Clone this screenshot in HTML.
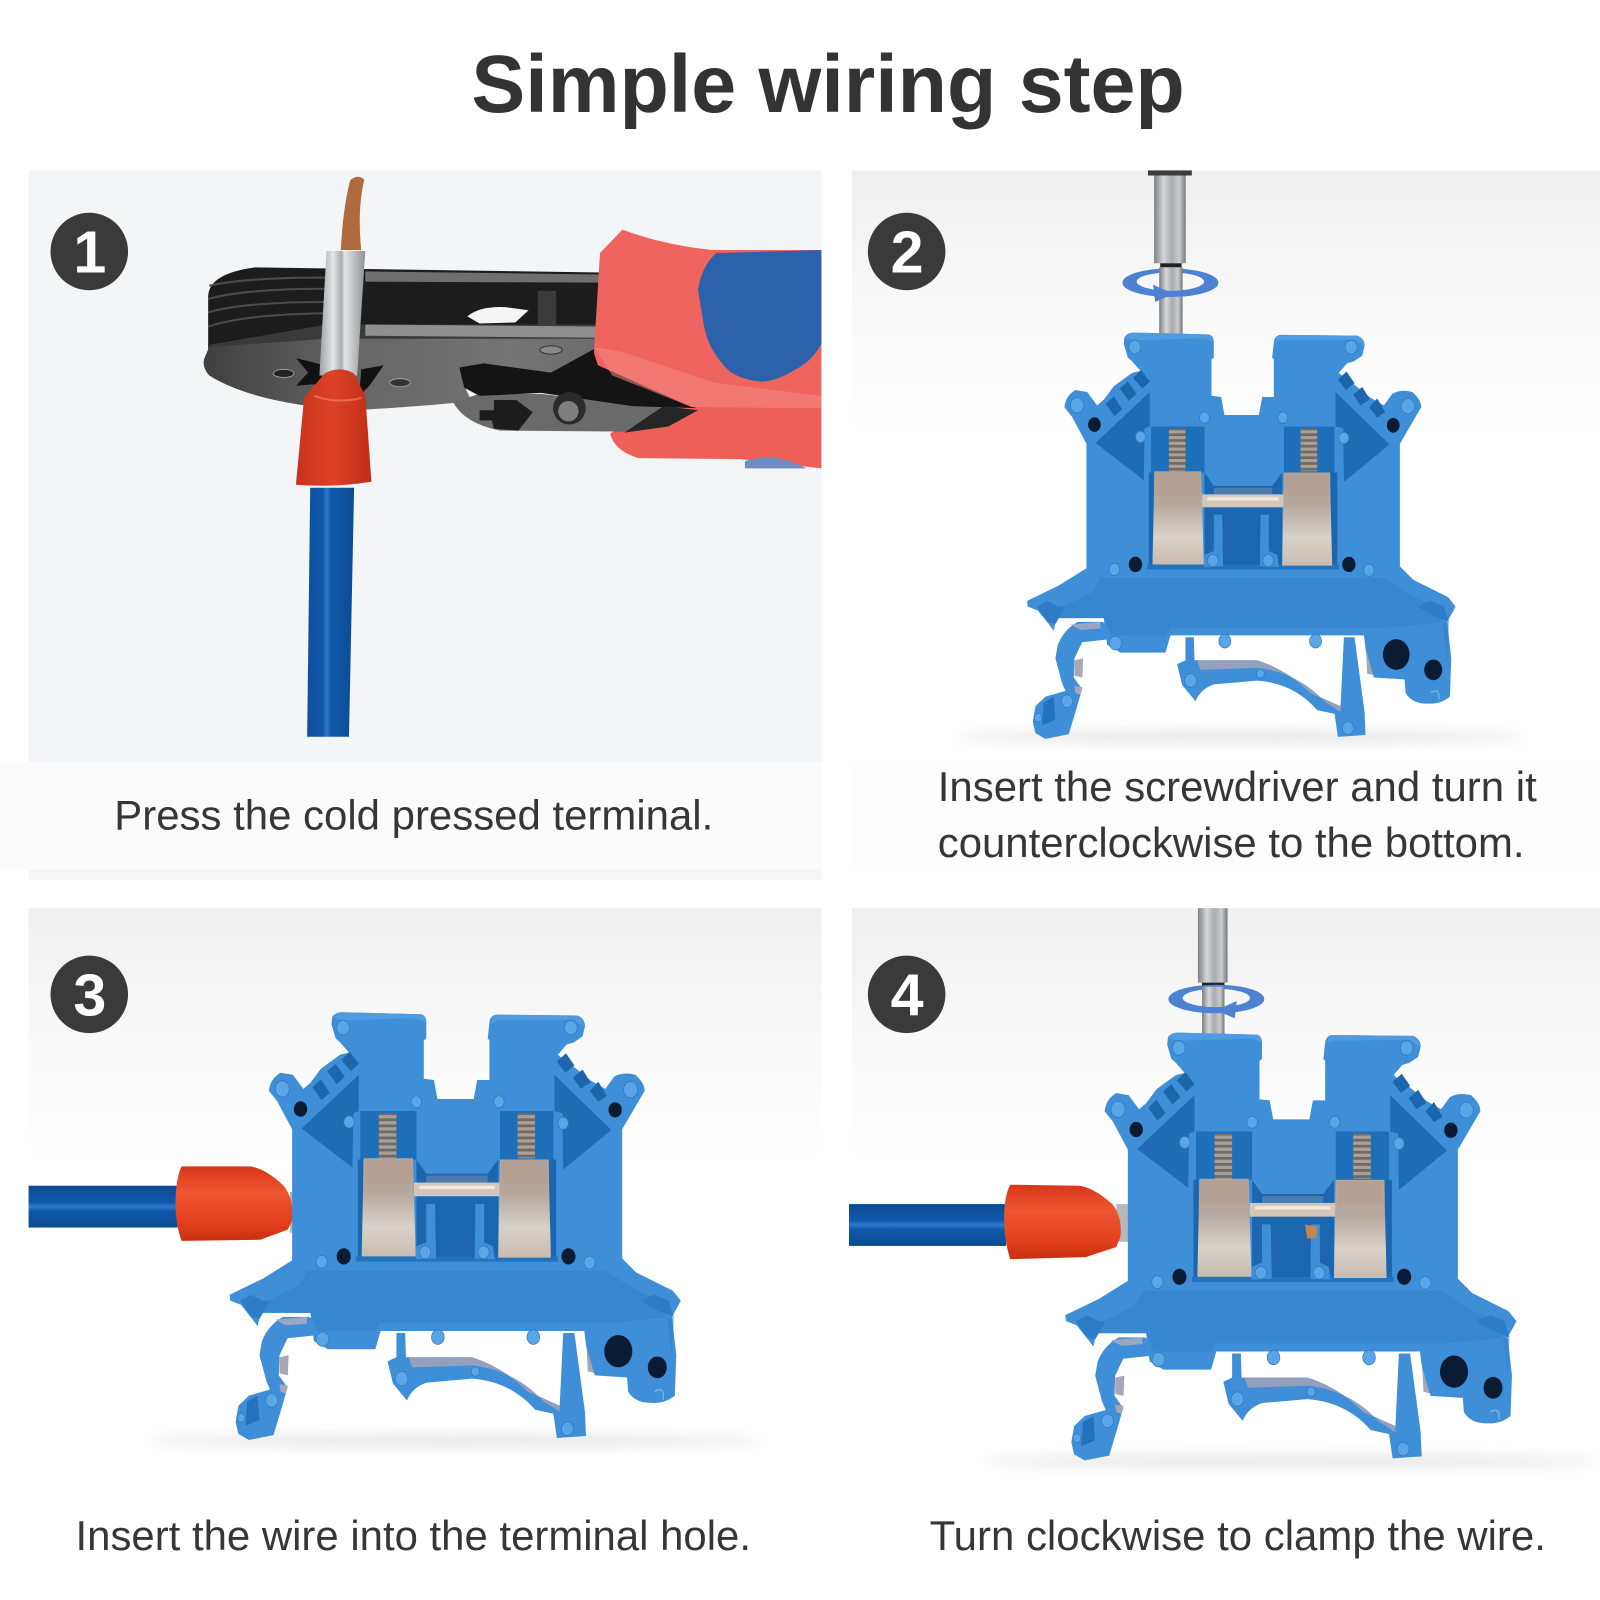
<!DOCTYPE html>
<html><head><meta charset="utf-8"><style>html,body{margin:0;padding:0;background:#fff}svg{display:block}text{font-family:"Liberation Sans",sans-serif}</style></head><body>
<svg xmlns="http://www.w3.org/2000/svg" width="1600" height="1600" viewBox="0 0 1568 1568">
<defs>
<clipPath id="c2"><rect x="1090" y="279" width="115" height="30"/></clipPath>
<clipPath id="c4"><rect x="1135" y="981" width="115" height="30"/></clipPath>
<linearGradient id="bgTop" x1="0" y1="0" x2="0" y2="1"><stop offset="0" stop-color="#efefef"/><stop offset=".22" stop-color="#f9f9f9"/><stop offset=".45" stop-color="#fff"/></linearGradient>
<linearGradient id="metalL" x1="0" y1="0" x2="0" y2="1"><stop offset="0" stop-color="#b8a698"/><stop offset=".35" stop-color="#b5a79d"/><stop offset=".7" stop-color="#d8d2ca"/><stop offset="1" stop-color="#c9bbae"/></linearGradient>
<linearGradient id="steel" x1="0" y1="0" x2="1" y2="0"><stop offset="0" stop-color="#7d8184"/><stop offset=".3" stop-color="#d5d8da"/><stop offset=".55" stop-color="#a7abae"/><stop offset=".8" stop-color="#c9cccd"/><stop offset="1" stop-color="#74787b"/></linearGradient>
<linearGradient id="ferr" x1="0" y1="0" x2="1" y2="0"><stop offset="0" stop-color="#9ba0a3"/><stop offset=".3" stop-color="#e4e6e7"/><stop offset=".48" stop-color="#a7adb1"/><stop offset=".55" stop-color="#e3e5e6"/><stop offset="1" stop-color="#8e9396"/></linearGradient>
<linearGradient id="wireV" x1="0" y1="0" x2="1" y2="0"><stop offset="0" stop-color="#0e4f9d"/><stop offset=".33" stop-color="#1158ab"/><stop offset=".42" stop-color="#2f7ccb"/><stop offset=".5" stop-color="#1058aa"/><stop offset="1" stop-color="#0d4a94"/></linearGradient>
<linearGradient id="wireH" x1="0" y1="0" x2="0" y2="1"><stop offset="0" stop-color="#0d4a94"/><stop offset=".4" stop-color="#1158ab"/><stop offset=".5" stop-color="#2f7ccb"/><stop offset=".6" stop-color="#1058aa"/><stop offset="1" stop-color="#0d4a94"/></linearGradient>
<linearGradient id="capH" x1="0" y1="0" x2="0" y2="1"><stop offset="0" stop-color="#d8361a"/><stop offset=".35" stop-color="#ef5632"/><stop offset=".75" stop-color="#e4401d"/><stop offset="1" stop-color="#c8300f"/></linearGradient>
<linearGradient id="capV" x1="0" y1="0" x2="1" y2="0"><stop offset="0" stop-color="#c9321c"/><stop offset=".5" stop-color="#dc4226"/><stop offset="1" stop-color="#bf2e18"/></linearGradient>
<linearGradient id="plate" x1="0" y1="0" x2="1" y2="0"><stop offset="0" stop-color="#3f3f3f"/><stop offset=".35" stop-color="#666"/><stop offset=".7" stop-color="#747474"/><stop offset="1" stop-color="#6a6a6a"/></linearGradient>
<filter id="b6" x="-20%" y="-200%" width="140%" height="500%"><feGaussianBlur stdDeviation="6"/></filter>
<pattern id="thread" width="20" height="15" patternUnits="userSpaceOnUse"><rect width="20" height="15" fill="#a9a097"/><rect y="8" width="20" height="7" fill="#6f6a66"/></pattern>

<g id="tb">
  <!-- lower hook -->
  <path d="M305,1205 L232,1205 Q190,1225 172,1265 L165,1300 L185,1365 L195,1385 L135,1400 L105,1425 L97,1465 L105,1495 L135,1510 L205,1498 L225,1440 L245,1380 L220,1350 L222,1300 L245,1258 L330,1250 L330,1215 Z" fill="#3f8fd8"/>
  <path d="M222,1305 L248,1300 L246,1350 L222,1345 Z M222,1372 L246,1375 L240,1395 L225,1390 Z" fill="#a9a7b5"/>
  <path d="M210,1212 L300,1205 L300,1222 L240,1226 Z" fill="#99a6c4"/>
  <path d="M130,1415 L160,1400 L165,1460 L125,1475 Z" fill="#2472bd"/>
  <!-- center spring -->
  <path d="M555,1245 L580,1245 L582,1305 L770,1305 Q860,1330 930,1390 L1020,1425 L1030,1245 L1062,1245 L1092,1440 L1095,1500 L1012,1505 L1002,1445 L950,1435 Q880,1365 770,1358 L640,1368 Q600,1380 585,1412 L545,1370 L530,1315 L555,1305 Z" fill="#3f8fd8"/>
  <path d="M590,1305 L770,1305 Q860,1330 930,1390 L1020,1425 L1020,1440 L975,1415 Q890,1335 770,1325 L600,1330 Z" fill="#94a0bd"/>
  <path d="M1095,1260 L1125,1270 L1125,1345 L1100,1340 Z" fill="#a4a6b4"/>
  <!-- main body -->
  <path d="M372,462 Q380,450 400,450 L625,455 Q640,458 640,475 L640,515 L633,520 L633,615 L662,618 L672,665 L775,665 L785,618 L820,618 L820,520 L815,515 L820,475 Q822,458 840,456 L1070,458 Q1092,465 1092,485 L1085,510 L1060,525 L1040,530 L1015,555 L1040,575 L1060,585 L1110,620 L1150,640 L1175,610 Q1200,597 1235,605 Q1262,625 1262,645 L1245,670 L1198,740 L1198,1060 L1238,1095 L1342,1140 L1365,1165 L1340,1205 L1352,1300 L1348,1400 Q1320,1420 1285,1418 Q1235,1420 1215,1390 L1212,1355 L1120,1350 L1095,1275 L1090,1240 L700,1240 L510,1240 L495,1285 L360,1285 L320,1265 L310,1195 L168,1195 L160,1228 L140,1205 L112,1175 L82,1165 L80,1150 L175,1110 L258,1065 L258,740 L215,670 L192,645 Q195,615 225,600 L260,605 L290,640 L310,625 L340,590 L395,555 L420,550 L395,525 L382,515 L370,480 Z" fill="#3f8fd8"/>
  <path d="M300,1090 L1150,1090 L1240,1140 L1320,1170 L1340,1300 L1345,1205 L1160,1220 L510,1220 L495,1240 L330,1240 L310,1195 L168,1195 L190,1165 L280,1125 Z" fill="#2f7fca" opacity=".55"/>
  <path d="M110,1165 L140,1150 L175,1165 L195,1165 L165,1210 L140,1205 Z" fill="#2d7cc8"/>
  <path d="M1250,1165 L1290,1150 L1330,1165 L1345,1205 L1300,1190 Z" fill="#2d7cc8"/>
  <!-- top bevel -->
  <path d="M375,462 Q385,450 400,450 L625,455 Q640,458 640,475 L610,465 L400,470 Z" fill="#4f9be0"/>
  <path d="M825,478 Q825,458 840,456 L1070,458 Q1090,465 1090,485 L1060,468 L840,470 Z" fill="#4f9be0"/>
  <!-- side triangles -->
  <path d="M285,738 L448,605 L448,695 L432,700 L430,835 Z" fill="#1f6cb4"/>
  <path d="M1167,742 L1005,605 L1005,695 L1028,700 L1030,840 Z" fill="#1f6cb4"/>
  <!-- ribs -->
  <path d="M398,568 L422,548 L448,578 L425,596 Z M358,596 L382,578 L408,610 L385,628 Z M316,636 L340,616 L365,650 L342,668 Z" fill="#1c66ad"/>
  <path d="M1012,572 L1038,552 L1062,582 L1036,600 Z M1058,612 L1085,592 L1108,624 L1080,640 Z M1106,645 L1130,622 L1154,658 L1130,672 Z" fill="#1c66ad"/>
  <!-- cavities -->
  <path d="M452,695 L612,695 L612,815 L452,815 Z M850,695 L1002,695 L1002,815 L850,815 Z" fill="#1d6fb9"/>
  <path d="M612,815 L640,850 L815,850 L845,815 L845,1062 L612,1062 Z M445,815 L460,815 L460,1062 L445,1062 Z M990,815 L1010,815 L1010,1062 L990,1062 Z" fill="#1b66ae"/>
  <path d="M440,1055 L1015,1055 L1015,1068 L440,1068 Z" fill="#2272bd"/>
  <!-- center posts -->
  <path d="M640,925 L665,925 L668,1060 L610,1062 L612,1030 L640,1020 Z M780,925 L805,925 L805,1020 L830,1030 L835,1062 L778,1060 Z" fill="#3f8fd8"/>
  <!-- screws -->
  <rect x="505" y="700" width="50" height="112" fill="url(#thread)"/>
  <rect x="900" y="700" width="50" height="112" fill="url(#thread)"/>
  <!-- bridge -->
  <rect x="605" y="872" width="245" height="34" fill="#d4c7b9"/>
  <rect x="620" y="880" width="215" height="8" fill="#efe9e2"/>
  <path d="M640,855 L815,855 L815,872 L640,872 Z" fill="#5f86ad" opacity=".7"/>
  <!-- metal blocks -->
  <path d="M462,812 L602,812 L610,1055 L456,1055 Z" fill="url(#metalL)"/>
  <path d="M850,815 L988,815 L995,1058 L845,1058 Z" fill="url(#metalL)"/>
  <path d="M465,815 L600,815 L600,875 L465,875 Z M855,818 L985,818 L985,875 L855,875 Z" fill="#b09a8a" opacity=".45"/>
  <!-- rivets -->
  <g fill="#5aa5e6" stroke="#2b7ac4" stroke-width="2">
    <circle cx="403" cy="488" r="18"/><circle cx="1052" cy="488" r="18"/><circle cx="230" cy="640" r="20"/><circle cx="1222" cy="642" r="20"/>
    <circle cx="612" cy="672" r="15"/><circle cx="847" cy="672" r="15"/><circle cx="420" cy="722" r="15"/><circle cx="1030" cy="725" r="15"/>
    <circle cx="342" cy="1068" r="16"/><circle cx="1105" cy="1070" r="16"/><circle cx="637" cy="1045" r="16"/><circle cx="803" cy="1045" r="16"/>
    <circle cx="345" cy="1260" r="18"/><circle cx="673" cy="1255" r="18"/><circle cx="945" cy="1255" r="18"/><circle cx="570" cy="1358" r="18"/>
    <circle cx="780" cy="1340" r="12"/><circle cx="200" cy="1412" r="17"/><circle cx="1042" cy="1482" r="17"/><circle cx="113" cy="1455" r="11"/>
  </g>
  <!-- holes -->
  <g fill="#0b1b33">
    <circle cx="282" cy="690" r="19"/><circle cx="1178" cy="692" r="19"/><circle cx="405" cy="1055" r="20"/><circle cx="1045" cy="1055" r="20"/>
    <circle cx="1187" cy="1290" r="40"/><circle cx="1298" cy="1330" r="27"/>
  </g>
  <path d="M1290,1390 Q1320,1375 1315,1410" fill="none" stroke="#7fb9ec" stroke-width="3"/>
</g>
</defs>

<rect width="1568" height="1568" fill="#fff"/>

<!-- Panel backgrounds -->
<rect x="28" y="167" width="777" height="580" fill="#f3f5f7"/>
<rect x="0" y="747" width="805" height="105" fill="#fbfbfc"/>
<rect x="28" y="852" width="777" height="10" fill="#f3f5f7"/>
<rect x="835" y="167" width="733" height="580" fill="url(#bgTop)"/>
<rect x="835" y="747" width="733" height="105" fill="#fdfdfd"/>
<rect x="28" y="890" width="777" height="558" fill="url(#bgTop)"/>
<rect x="835" y="890" width="733" height="558" fill="url(#bgTop)"/>

<!-- Title -->
<text x="462" y="110" font-size="80" font-weight="700" fill="#333" textLength="699" lengthAdjust="spacingAndGlyphs">Simple wiring step</text>

<!-- Panel 1: pliers -->
<path d="M598,425 L640,395 L805,396 L805,459 L726,450 L626,449 Q602,442 598,425 Z" fill="#ee5f58"/>
<path d="M730,452 Q760,442 790,459 L730,459 Z" fill="#6f8dc4"/>
<path d="M204,290 Q205,268 250,262 L590,267 L590,345 L204,352 Z" fill="#1c1c1c"/>
<path d="M205,280 Q240,272 320,272 M204,293 Q240,283 320,283 M204,306 Q240,296 320,296 M204,320 Q240,308 320,307" fill="none" stroke="#4c4c4c" stroke-width="2"/>
<path d="M358,266 L590,269 L590,277 L358,276 Z" fill="#6f6f6f"/>
<path d="M458,310 Q470,300 495,301 L518,304 L505,316 L470,317 Z" fill="#f3f5f7"/>
<rect x="527" y="285" width="18" height="36" fill="#3a3a3a"/>
<path d="M205,338 L320,318 L590,318 L590,334 L205,352 Z" fill="#3a3a3a"/>
<path d="M358,318 L590,320 L590,331 L358,329 Z" fill="#8f8f8f"/>
<path d="M200,352 L205,340 L320,332 L590,332 L588,362 L626,378 L540,365 L474,356 L450,360 L455,378 L462,393 Q420,398 346,402 Q250,396 205,368 Q198,360 200,352 Z" fill="url(#plate)"/>
<path d="M444,394 L470,386 L530,386 L620,396 L670,402 L614,423 L490,422 Q455,415 444,394 Z" fill="#6a6a6a"/>
<path d="M450,360 L474,356 L540,365 L586,340 L682,400 L620,398 L530,385 L470,388 L455,380 Z" fill="#141414"/>
<path d="M612,424 L650,398 L684,402 L655,418 Z" fill="#262626"/>
<path d="M470,402 L484,402 L484,392 L506,392 L522,404 L508,422 L484,420 L482,412 L470,412 Z" fill="#1c1c1c"/>
<circle cx="558" cy="400" r="16" fill="#2b2b2b"/><circle cx="557" cy="403" r="10" fill="#7e7e7e"/>
<ellipse cx="278" cy="366" rx="10" ry="4" fill="#222" stroke="#999"/><ellipse cx="392" cy="375" rx="10" ry="4" fill="#333" stroke="#999"/><ellipse cx="540" cy="343" rx="11" ry="4" fill="#8a8a8a" stroke="#333"/>
<path d="M290,351 L318,358 L316,376 L290,378 L302,365 Z M354,362 L376,358 L362,378 L352,388 Z" fill="#111"/>
<path d="M610,225 L588,248 L582,346 L586,358 L678,399 L805,400 L805,245 L698,245 Q650,240 610,225 Z" fill="#f0645f"/>
<path d="M684,284 Q688,260 702,248 L805,245 L805,337 Q795,355 778,363 Q760,374 746,374 Q725,372 714,363 Q695,345 690,320 Z" fill="#2c62ac"/>
<path d="M582,340 L600,368 L678,399 L805,400 L805,388 L700,375 L610,345 Z" fill="#f48a84" opacity=".55"/>
<path d="M334,245 Q336,205 343,177 Q350,170 357,176 Q350,205 354,245 Z" fill="#b06a3e"/>
<path d="M320,246 L358,246 L350,368 L313,368 Z" fill="url(#ferr)"/>
<path d="M304,478 L347,478 L342,722 L301,722 Z" fill="url(#wireV)"/>
<path d="M318,366 Q333,358 347,366 L358,388 L364,472 Q330,478 290,475 L298,390 Z" fill="url(#capV)"/>
<path d="M308,388 Q330,396 354,390" fill="none" stroke="#e86a4e" stroke-width="2"/>

<!-- Panel 2 -->
<ellipse cx="1215" cy="722" rx="280" ry="6" fill="#9a9a9a" opacity=".25" filter="url(#b6)"/>
<rect x="1125" y="167" width="43" height="5" fill="#3c3c3c"/>
<rect x="1131" y="172" width="31" height="86" fill="url(#steel)"/>
<rect x="1137" y="258" width="21" height="4" fill="#222"/>
<path fill-rule="evenodd" d="M1100,277 A47,14 0 1 0 1194,277 A47,14 0 1 0 1100,277 Z M1114,276 A33,9 0 1 1 1180,276 A33,9 0 1 1 1114,276 Z" fill="#4d82d3"/>
<rect x="1136" y="262" width="23" height="66" fill="url(#steel)"/>
<path clip-path="url(#c2)" fill-rule="evenodd" d="M1100,277 A47,14 0 1 0 1194,277 A47,14 0 1 0 1100,277 Z M1114,276 A33,9 0 1 1 1180,276 A33,9 0 1 1 1114,276 Z" fill="#4d82d3"/>
<path d="M1130,279 L1150,288 L1132,296 Z" fill="#4d82d3"/>
<use href="#tb" transform="translate(980.4,156.9) scale(.3268,.3756)"/>

<!-- Panel 3 -->
<ellipse cx="445" cy="1412" rx="300" ry="6" fill="#9a9a9a" opacity=".25" filter="url(#b6)"/>
<rect x="28" y="1162" width="146" height="41" fill="url(#wireH)"/>
<rect x="284" y="1168" width="5" height="40" fill="#b5b8ba"/>
<path d="M178,1143 L245,1143 Q260,1145 278,1162 Q288,1175 287,1195 L282,1205 L255,1215 L178,1216 Q172,1200 172,1180 Q172,1155 178,1143 Z" fill="url(#capH)"/>
<use href="#tb" transform="translate(197.5,814) scale(.3441,.3955)"/>

<!-- Panel 4 -->
<ellipse cx="1265" cy="1432" rx="300" ry="6" fill="#9a9a9a" opacity=".25" filter="url(#b6)"/>
<rect x="1174" y="890" width="29" height="73" fill="url(#steel)"/>
<rect x="1178" y="963" width="22" height="4" fill="#222"/>
<path fill-rule="evenodd" d="M1145,979 A47,14 0 1 0 1239,979 A47,14 0 1 0 1145,979 Z M1159,978 A33,9 0 1 1 1225,978 A33,9 0 1 1 1159,978 Z" fill="#4d82d3"/>
<rect x="1178" y="967" width="22" height="48" fill="url(#steel)"/>
<path clip-path="url(#c4)" fill-rule="evenodd" d="M1145,979 A47,14 0 1 0 1239,979 A47,14 0 1 0 1145,979 Z M1159,978 A33,9 0 1 1 1225,978 A33,9 0 1 1 1159,978 Z" fill="#4d82d3"/>
<path d="M1212,981 L1192,990 L1210,998 Z" fill="#4d82d3"/>
<rect x="832" y="1180" width="154" height="41" fill="url(#wireH)"/>
<rect x="1094" y="1180" width="12" height="37" fill="#b5b8ba"/>
<path d="M990,1161 L1058,1162 Q1072,1164 1090,1180 Q1100,1192 1098,1212 L1094,1222 L1064,1232 L990,1234 Q984,1215 984,1195 Q984,1172 990,1161 Z" fill="url(#capH)"/>
<use href="#tb" transform="translate(1016.5,834) scale(.3441,.3955)"/>
<path d="M1279,1200 L1291,1202 L1290,1213 L1281,1214 Z" fill="#c1854f"/>

<!-- Number badges -->
<g fill="#3a3a3a"><circle cx="87.500" cy="246.500" r="38"/><circle cx="888.500" cy="246.500" r="38"/><circle cx="87.500" cy="974.500" r="38"/><circle cx="888.500" cy="974.500" r="38"/></g>
<g fill="#fff" font-size="58" font-weight="700" text-anchor="middle">
<text x="88" y="267">1</text><text x="889" y="267">2</text><text x="88" y="995">3</text><text x="889" y="995">4</text>
</g>

<!-- Captions -->
<g fill="#363636" font-size="40.500">
<text x="112" y="813" textLength="587" lengthAdjust="spacingAndGlyphs">Press the cold pressed terminal.</text>
<text x="919" y="785" textLength="587" lengthAdjust="spacingAndGlyphs">Insert the screwdriver and turn it</text>
<text x="919" y="840" textLength="575" lengthAdjust="spacingAndGlyphs">counterclockwise to the bottom.</text>
<text x="74" y="1519" textLength="662" lengthAdjust="spacingAndGlyphs">Insert the wire into the terminal hole.</text>
<text x="911" y="1519" textLength="604" lengthAdjust="spacingAndGlyphs">Turn clockwise to clamp the wire.</text>
</g>
</svg>
</body></html>
